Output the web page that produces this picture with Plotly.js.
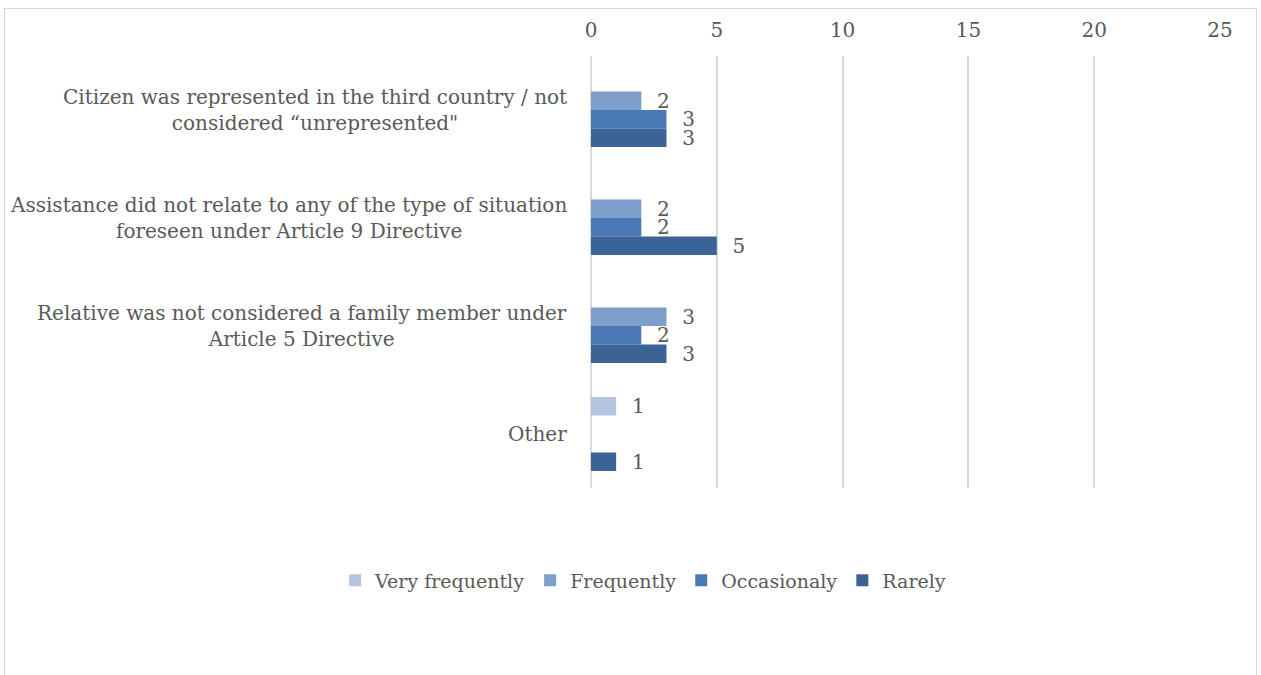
<!DOCTYPE html>
<html>
<head>
<meta charset="utf-8">
<script src="https://cdn.plot.ly/plotly-3.0.1.min.js"></script>
<style>
  html, body { margin: 0; padding: 0; background: #fff; }
  #wrap { position: relative; width: 1261px; height: 675px; overflow: hidden; }
  #chart { width: 1261px; height: 675px; }
  #frame { position: absolute; left: 4px; top: 8px; width: 1253px; height: 720px;
           border: 1px solid #d9d9d9; pointer-events: none; box-sizing: border-box; }
</style>
</head>
<body>
<div id="wrap">
  <div id="chart"></div>
  <div id="frame"></div>
</div>
<script>
const categories = [
  'Citizen was represented in the third country / not<br>considered \u201cunrepresented"',
  'Assistance did not relate to any of the type of situation<br>foreseen under Article 9 Directive',
  'Relative was not considered a family member under<br>Article 5 Directive',
  'Other'
];
const seriesNames = ['Very frequently', 'Frequently', 'Occasionaly', 'Rarely'];
const veryFrequently = [null, null, null, 1];
const frequently     = [2, 2, 3, null];
const occasionaly    = [3, 2, 2, null];
const rarely         = [3, 5, 3, 1];
const seriesColors = ['#b4c4e1', '#7f9ecc', '#4a79b5', '#3b6396'];
const tickValues = [0, 5, 10, 15, 20, 25];

const FONT = 'DejaVu Serif, serif';
const TXT = '#595959';
const FS = 20;

const values = [veryFrequently, frequently, occasionaly, rarely];
const traces = values.map((v, i) => ({
  type: 'bar',
  orientation: 'h',
  name: seriesNames[i],
  y: categories,
  x: v,
  marker: { color: seriesColors[i], line: { width: 0 } },
  text: v.map(d => d == null ? '' : '\u00a0\u00a0' + d),
  textposition: 'outside',
  constraintext: 'none',
  cliponaxis: false,
  textfont: { family: FONT, size: FS, color: TXT },
  hoverinfo: 'x+name'
}));

const annotations = categories.map(c => ({
  xref: 'paper', yref: 'y', x: 0, y: c, xshift: -22,
  xanchor: 'right', yanchor: 'middle', align: 'center',
  text: c, showarrow: false,
  font: { family: FONT, size: FS, color: TXT }
}));

const layout = {
  width: 1261, height: 675,
  margin: { l: 591, r: 41, t: 56, b: 187, pad: 0 },
  paper_bgcolor: '#fff', plot_bgcolor: '#fff',
  barmode: 'group',
  bargap: 0.315,
  bargroupgap: 0,
  font: { family: FONT, size: FS, color: TXT },
  xaxis: {
    side: 'top', range: [0, 25], tickvals: tickValues,
    showgrid: true, gridcolor: '#d9d9d9', gridwidth: 2,
    zeroline: true, zerolinecolor: '#d9d9d9', zerolinewidth: 2,
    showline: false, ticks: '',
    ticklabelstandoff: 14,
    tickfont: { family: FONT, size: FS, color: TXT },
    fixedrange: true
  },
  yaxis: {
    autorange: 'reversed', showticklabels: false, showgrid: false,
    zeroline: false, showline: false, ticks: '', fixedrange: true
  },
  showlegend: true,
  legend: {
    orientation: 'h', xref: 'container', yref: 'container',
    x: 0.51, xanchor: 'center', y: 0.14, yanchor: 'middle',
    font: { family: FONT, size: 19, color: TXT },
    itemwidth: 30, traceorder: 'normal'
  },
  annotations: annotations
};

Plotly.newPlot('chart', traces, layout, { displayModeBar: false, staticPlot: true });
</script>
</body>
</html>
